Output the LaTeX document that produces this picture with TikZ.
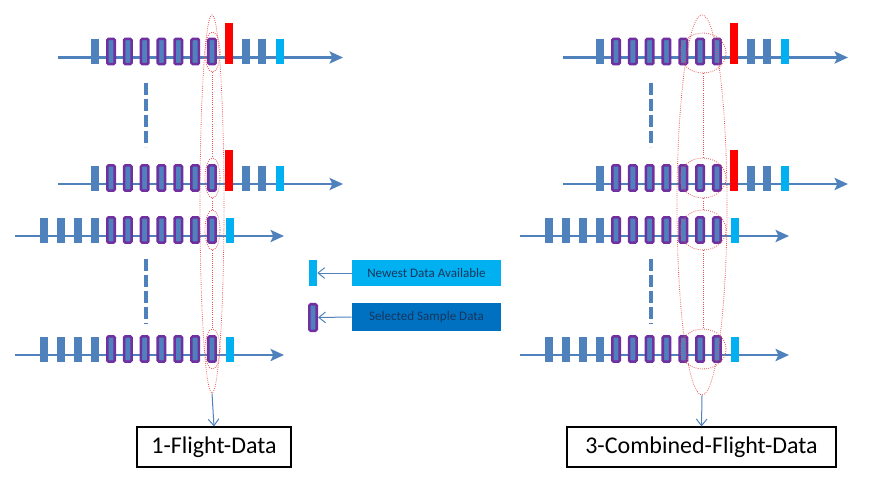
\documentclass[tikz,border=0pt]{standalone}
\usepackage{fontspec}
\setmainfont{Carlito}
\usetikzlibrary{arrows.meta, positioning, shapes.geometric}
\definecolor{barblue}{HTML}{4F81BD}
\definecolor{selpurple}{HTML}{7030A0}
\definecolor{newcyan}{HTML}{00B0F0}
\definecolor{seldark}{HTML}{0070C0}
\definecolor{navytext}{HTML}{17375E}
\definecolor{ringred}{HTML}{E85050}
\tikzset{
  tickbar/.style={rectangle,fill=barblue,inner sep=0pt,minimum width=6pt,minimum height=18.75pt},
  newbar/.style={tickbar,fill=newcyan},
  lastbar/.style={tickbar,fill=red,minimum height=30.75pt},
  selbar/.style={rectangle,draw=selpurple,fill=barblue,line width=1.9pt,rounded corners=1pt,inner sep=0pt,minimum width=5.6pt,minimum height=19pt},
  timeline/.style={draw=barblue,line width=2.2pt,-{Stealth[length=10pt,width=9pt,inset=2pt]}},
  skipline/.style={draw=barblue,line width=2.6pt,dash pattern=on 9pt off 3pt},
  ring/.style={ellipse,draw=ringred,densely dotted,line width=0.6pt,inner sep=0pt},
  ringlink/.style={draw=ringred,densely dotted,line width=0.6pt},
  resultbox/.style={rectangle,draw,line width=0.8pt,inner sep=0pt,minimum height=30pt,font=\fontsize{18}{20}\selectfont},
  keybox/.style={rectangle,inner sep=0pt,text=navytext,minimum width=111.75pt,font=\fontsize{9.8}{12}\selectfont},
  line/.style={draw=barblue,line width=0.75pt,-{Straight Barb[length=5pt,width=8pt]}}
}

\begin{document}
\begin{tikzpicture}[x=0.75pt,y=-0.75pt]
\useasboundingbox (0,0) rectangle (871,485);
\foreach \p/\dx in {L/0,R/505}{
  % rows that still show later data after the red mark
  \foreach \r/\y in {1/57.5,2/184}{
    \coordinate (\p\r a) at (58+\dx,\y);
    \coordinate (\p\r z) at (343+\dx,\y);
    \draw[timeline] (\p\r a) -- (\p\r z);
    \node[tickbar] (\p\r b0) at (95+\dx,\y-6) {};
    \foreach \i in {1,...,7}
      \node[selbar] (\p\r s\i) at (94.17+16.83*\i+\dx,\y-6) {};
    \node[lastbar] (\p\r red) at (229+\dx,\y-14) {};
    \node[tickbar] (\p\r b1) at (246+\dx,\y-6) {};
    \node[tickbar] (\p\r b2) at (262+\dx,\y-6) {};
    \node[newbar] (\p\r new) at (279.5+\dx,\y-6) {};
  }
  % rows that end with the newest data
  \foreach \r/\y in {3/236,4/355}{
    \coordinate (\p\r a) at (15+\dx,\y);
    \coordinate (\p\r z) at (284+\dx,\y);
    \draw[timeline] (\p\r a) -- (\p\r z);
    \foreach \i/\x in {1/44,2/61,3/78,4/95}
      \node[tickbar] (\p\r b\i) at (\x+\dx,\y-6) {};
    \foreach \i in {1,...,7}
      \node[selbar] (\p\r s\i) at (94.17+16.83*\i+\dx,\y-6) {};
    \node[newbar] (\p\r new) at (230+\dx,\y-6) {};
  }
  % skipped rows
  \coordinate (\p g1) at (146+\dx,83);
  \coordinate (\p g2) at (146+\dx,147);
  \coordinate (\p g3) at (146+\dx,259);
  \coordinate (\p g4) at (146+\dx,324);
  \draw[skipline] (\p g1) -- (\p g2);
  \draw[skipline] (\p g3) -- (\p g4);
}

% one flight: last sample of each row
\node[ring,minimum width=11.25pt,minimum height=30pt] (Lk1) at (212.5,52) {};
\node[ring,minimum width=11.25pt,minimum height=30pt] (Lk2) at (212.5,178) {};
\node[ring,minimum width=11.25pt,minimum height=30pt] (Lk3) at (212.5,230) {};
\node[ring,minimum width=11.25pt,minimum height=30pt] (Lk4) at (212.5,349) {};
\node[ring,minimum width=18pt,minimum height=283.5pt] (Lbig) at (212,204) {};
\draw[ringlink] (Lk1.south) -- (Lk2.north);
\draw[ringlink] (Lk2.south) -- (Lk3.north);
\draw[ringlink] (Lk3.south) -- (Lk4.north);
\node[resultbox,minimum width=115.5pt] (Lres) at (214,447) {1-Flight-Data};
\draw[line] (Lbig.south) -- (Lres.north);

% three combined flights: last three samples of each row
\node[ring,minimum width=34.5pt,minimum height=30pt] (Rk1) at (703,53) {};
\node[ring,minimum width=34.5pt,minimum height=30pt] (Rk2) at (703,178) {};
\node[ring,minimum width=34.5pt,minimum height=30pt] (Rk3) at (703,230) {};
\node[ring,minimum width=34.5pt,minimum height=30pt] (Rk4) at (703,349) {};
\node[ring,minimum width=37.5pt,minimum height=285pt] (Rbig) at (702,205) {};
\draw[ringlink] (Rk1.south) -- (Rk2.north);
\draw[ringlink] (Rk2.south) -- (Rk3.north);
\draw[ringlink] (Rk3.south) -- (Rk4.north);
\node[resultbox,minimum width=201.75pt] (Rres) at (701.5,447) {3-Combined-Flight-Data};
\draw[line] (Rbig.south) -- (Rres.north);

% key
\node[newbar,minimum height=19.5pt] (keynew) at (313,273) {};
\node[keybox,fill=newcyan,minimum height=19.5pt] (keynewtxt) at (426.5,273) {Newest Data Available};
\draw[line] (keynewtxt.west) -- (keynew.east);
\node[selbar,minimum height=19.9pt] (keysel) at (313,317.5) {};
\node[keybox,fill=seldark,minimum height=21pt] (keyseltxt) at (426.5,317) {Selected Sample Data};
\draw[line] (keyseltxt.west) -- (keysel.east);
\end{tikzpicture}
\end{document}
